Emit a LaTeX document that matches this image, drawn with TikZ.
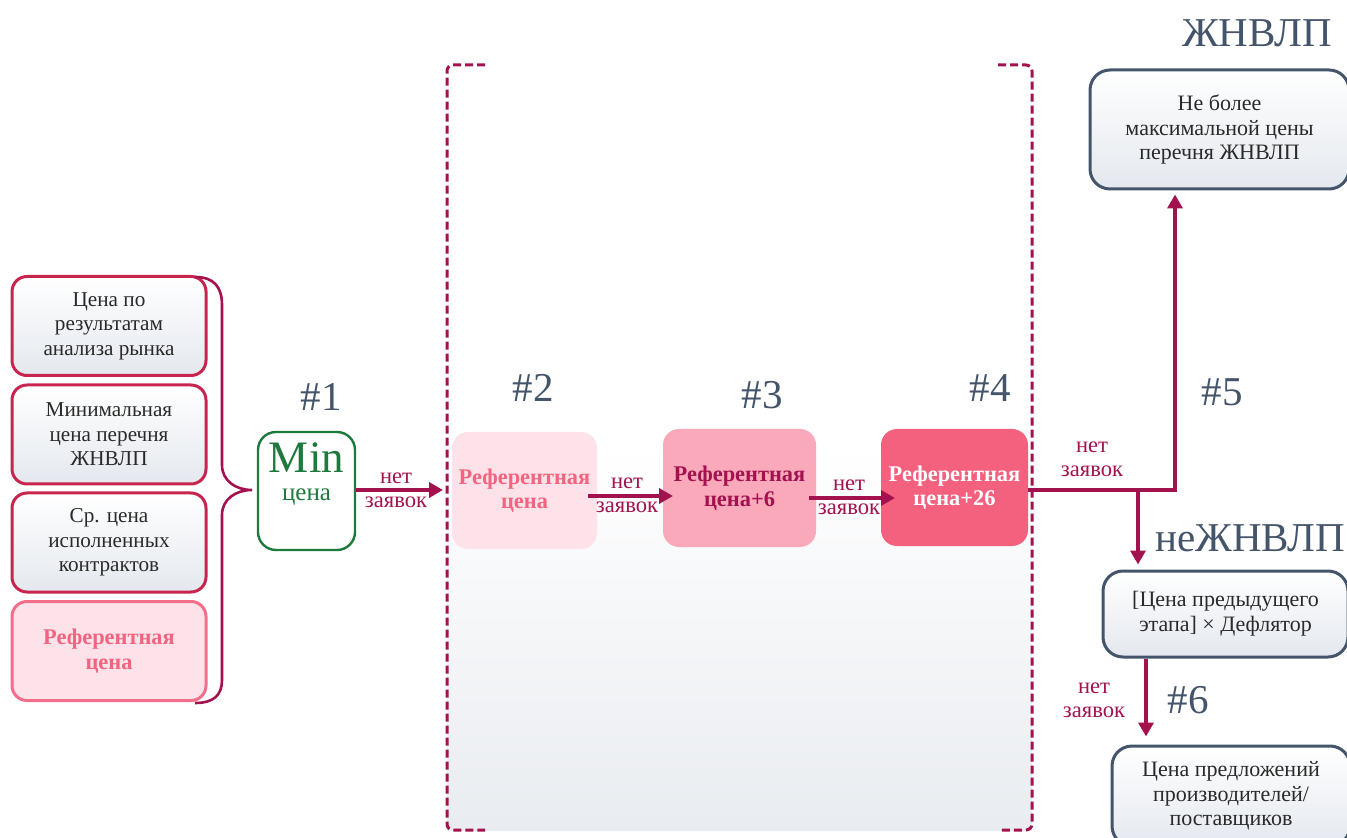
\documentclass[tikz,border=0pt]{standalone}
\usepackage{fontspec}
\setmainfont{Liberation Serif}
\usetikzlibrary{arrows.meta}
\definecolor{crim}{HTML}{C7254E}
\definecolor{wine}{HTML}{A3124F}
\definecolor{slate}{HTML}{44546A}
\definecolor{txt}{HTML}{2A2A2A}
\definecolor{pinkA}{HTML}{FDE3E9}
\definecolor{pinkAb}{HTML}{F26E8A}
\definecolor{pinkB}{HTML}{F9A9BA}
\definecolor{pinkC}{HTML}{F4617F}
\definecolor{pinkT}{HTML}{F2647F}
\definecolor{grn}{HTML}{1D7A3C}
\definecolor{grayb}{HTML}{E4E8EE}
\definecolor{grayz}{HTML}{E9ECF0}
\newcommand{\mySrc}{\fontsize{10.6}{12.2}\selectfont}
\newcommand{\mySl}{\fontsize{11}{12.3}\selectfont}
\newcommand{\myRef}{\fontsize{11.2}{12.2}\selectfont\bfseries}
\newcommand{\myLbl}{\fontsize{11.3}{12}\selectfont}
\newcommand{\myHead}{\fontsize{20.5}{24}\selectfont}
\begin{document}
\begin{tikzpicture}[x=0.5pt,y=-0.5pt,
  srcbox/.style={draw=crim, line width=1.5pt, rounded corners=7.5pt, top color=white, bottom color=grayb,
    minimum width=97pt, minimum height=49.5pt, align=center, text=txt, font=\mySrc, inner sep=0pt},
  slbox/.style={draw=slate, line width=1.5pt, rounded corners=10pt, top color=white, bottom color=grayb,
    align=center, text=txt, font=\mySl, inner sep=0pt},
  refbox/.style={rounded corners=8pt, align=center, font=\myRef, inner sep=0pt},
  arr/.style={draw=wine, line width=2pt, -{Triangle[length=7pt,width=7.5pt]}},
  lbl/.style={text=wine, font=\myLbl, align=center, inner sep=0pt},
  head/.style={text=slate, font=\myHead, inner sep=0pt}]
\useasboundingbox (0,0) rectangle (1347,838);
\clip (0,0) rectangle (1347,838);

% bracket region
\fill[top color=white, bottom color=grayz, middle color=white] (447,65) rectangle (1032,830);
\draw[wine, line width=1.5pt, dash pattern=on 4pt off 2pt, rounded corners=3pt]
  (485,65) -- (447,65) -- (447,830) -- (485,830);
\draw[wine, line width=1.5pt, dash pattern=on 4pt off 2pt, rounded corners=3pt]
  (998,65) -- (1032,65) -- (1032,830) -- (998,830);

% source boxes
\node[srcbox] (s1) at (109,326) {Цена по\\результатам\\анализа рынка};
\node[srcbox] (s2) at (109,434.5) {Минимальная\\цена перечня\\ЖНВЛП};
\node[srcbox] (s3) at (109,542.5) {Ср. цена\\исполненных\\контрактов};
\node[srcbox, draw=pinkAb, top color=pinkA, bottom color=pinkA, text=pinkT, font=\myRef] (s4) at (109,651) {Референтная\\цена};

% brace
\draw[wine, line width=1.3pt] (195,277) .. controls (214,277) and (222,287) .. (222,305) -- (222,465)
  .. controls (222,481) and (236,490) .. (252,490)
  .. controls (236,490) and (222,499) .. (222,515) -- (222,680)
  .. controls (222,695) and (214,703) .. (195,703);

% min box
\node[draw=grn, line width=1.2pt, rounded corners=9pt, fill=white, minimum width=48.5pt, minimum height=59pt] (minb) at (306.5,491) {};
\node[text=grn, font=\fontsize{22.5}{24}\selectfont, inner sep=0pt] (mint) at (306.5,458) {Min};
\node[text=grn, font=\fontsize{12.5}{14}\selectfont, inner sep=0pt] (minc) at (306.5,497) {цена};

% ref boxes
\node[refbox, fill=pinkA, text=pinkT, minimum width=72.5pt, minimum height=58.5pt] (r2) at (524.5,490.5) {Референтная\\цена};
\node[refbox, fill=pinkB, text=wine, minimum width=76.5pt, minimum height=59pt] (r3) at (739.5,488) {Референтная\\цена+6};
\node[refbox, fill=pinkC, text=white, minimum width=73.5pt, minimum height=58.5pt] (r4) at (954.5,487.5) {Референтная\\цена+26};

% headers
\node[head] (h1) at (321,397) {\#1};
\node[head] (h2) at (533,388) {\#2};
\node[head] (h3) at (762,395) {\#3};
\node[head] (h4) at (990,388) {\#4};
\node[head] (h5) at (1222,392) {\#5};
\node[head] (h6) at (1188,700) {\#6};
\node[head] (hj) at (1257,33) {ЖНВЛП};
\node[head] (hn) at (1250,538) {неЖНВЛП};

% right boxes
\node[slbox, minimum width=129.5pt, minimum height=59.5pt] (jb) at (1219.5,129.5) {Не более\\максимальной цены\\перечня ЖНВЛП};
\node[slbox, minimum width=122.5pt, minimum height=43pt] (nb) at (1225.5,614) {[Цена предыдущего\\этапа] × Дефлятор};
\node[slbox, minimum width=119pt, minimum height=50pt] (pb) at (1231,796) {Цена предложений\\производителей/\\поставщиков};

% arrows
\coordinate (a1e) at (443,490);
\draw[arr] (minb.east |- a1e) -- (a1e);
\node[lbl] (l1) at (396,490) {нет\\заявок};

\coordinate (a2s) at (588,496);
\coordinate (a2e) at (673,496);
\draw[arr] (a2s) -- (a2e);
\node[lbl] (l2) at (627,495) {нет\\заявок};

\coordinate (a3s) at (809,498);
\coordinate (a3e) at (895,498);
\draw[arr] (a3s) -- (a3e);
\node[lbl] (l3) at (849,497) {нет\\заявок};

\coordinate (turn) at (1175,490);
\coordinate (branch) at (1138,490);
\draw[arr] (r4.east |- turn) -- (turn) -- ([yshift=-2pt]turn |- jb.south);
\draw[arr] (branch) -- ([yshift=2.5pt]branch |- nb.north);
\node[lbl] (l5) at (1092,459) {нет\\заявок};

\coordinate (a6) at (1146,657);
\draw[arr] (a6 |- nb.south) -- ([yshift=4pt]a6 |- pb.north);
\node[lbl] (l6) at (1094,700) {нет\\заявок};
\end{tikzpicture}
\end{document}
